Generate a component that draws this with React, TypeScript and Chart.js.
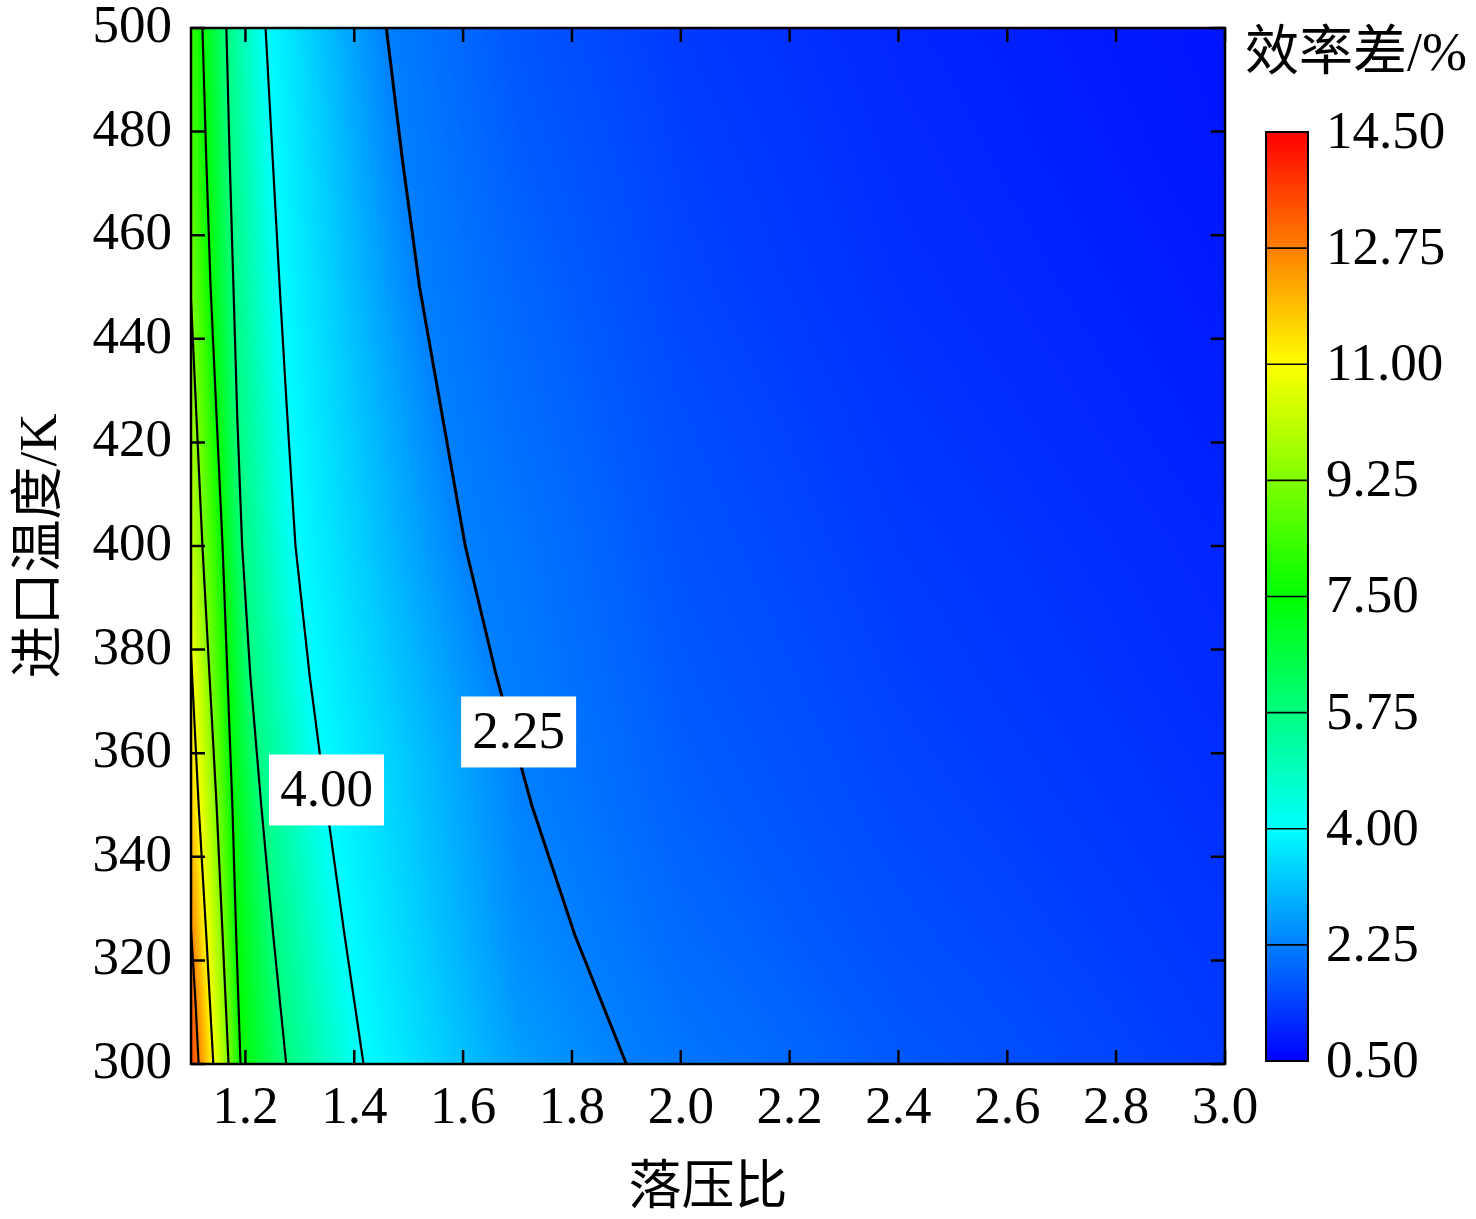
import React, { useEffect, useRef } from 'react';
import { Chart, registerables } from 'chart.js';

Chart.register(...registerables);

// ---- axis ticks ----
const xTickValues = [1.2, 1.4, 1.6, 1.8, 2.0, 2.2, 2.4, 2.6, 2.8, 3.0];
const yTickValues = [300, 320, 340, 360, 380, 400, 420, 440, 460, 480, 500];
const colorbarLevels = [0.5, 2.25, 4.0, 5.75, 7.5, 9.25, 11.0, 12.75, 14.5];
const colorbarLabels = ['0.50', '2.25', '4.00', '5.75', '7.50', '9.25', '11.00', '12.75', '14.50'];

// ---- contour lines (pressure ratio x at inlet temperature T) ----
const contourT = [300, 325, 350, 375, 400, 425, 450, 475, 500];
const line225 = [1.900, 1.805, 1.726, 1.661, 1.604, 1.562, 1.520, 1.488, 1.459];
const line400 = [1.417, 1.382, 1.349, 1.318, 1.292, 1.277, 1.263, 1.250, 1.237];
const line575 = [1.275, 1.251, 1.229, 1.209, 1.194, 1.185, 1.178, 1.171, 1.165];
const line750 = [1.191, 1.183, 1.176, 1.167, 1.158, 1.147, 1.136, 1.128, 1.121];
const line925T = [300, 325, 350, 375, 400, 425, 447.5];
const line925 = [1.169, 1.158, 1.147, 1.134, 1.121, 1.110, 1.100];
const line1100T = [300, 325, 350, 375, 379];
const line1100 = [1.141, 1.128, 1.114, 1.102, 1.100];
const line1275T = [300, 312.5, 326];
const line1275 = [1.114, 1.108, 1.100];

// ---- field values at the left edge (x = 1.1) and at sample columns, per contourT ----
const edgeLeftX = 1.1;
const edgeLeft = [13.7, 12.75, 11.75, 11.05, 10.2, 9.7, 9.15, 8.6, 8.2];
const columnX = [1.7, 2.0, 2.4, 3.0];
const col170 = [2.7, 2.45, 2.3, 2.2, 2.12, 2.0, 1.9, 1.78, 1.68];
const col200 = [2.12, 1.95, 1.82, 1.72, 1.63, 1.55, 1.45, 1.38, 1.3];
const col240 = [1.72, 1.58, 1.47, 1.38, 1.3, 1.22, 1.14, 1.08, 1.02];
const col300 = [1.3, 1.21, 1.13, 1.06, 1.0, 0.92, 0.86, 0.8, 0.76];

// ---- contour labels ----
const labelText = ['4.00', '2.25'];
const labelX = [1.349, 1.702];
const labelT = [352.9, 364.1];

const contours = [
  { level: 2.25, t: contourT, x: line225 },
  { level: 4.0, t: contourT, x: line400 },
  { level: 5.75, t: contourT, x: line575 },
  { level: 7.5, t: contourT, x: line750 },
  { level: 9.25, t: line925T, x: line925 },
  { level: 11.0, t: line1100T, x: line1100 },
  { level: 12.75, t: line1275T, x: line1275 },
];
const columns = [col170, col200, col240, col300];

const SERIF = "'Liberation Serif', 'Times New Roman', 'Noto Sans CJK SC', serif";
const FS = 53;

const colorStops: [number, number[]][] = [
  [0.5, [0, 0, 255]],
  [4.0, [0, 255, 255]],
  [7.5, [0, 255, 0]],
  [11.0, [255, 255, 0]],
  [14.5, [255, 0, 0]],
];

function colorFor(v: number): number[] {
  if (v <= colorStops[0][0]) return colorStops[0][1];
  for (let i = 1; i < colorStops.length; i++) {
    const [v1, c1] = colorStops[i];
    const [v0, c0] = colorStops[i - 1];
    if (v <= v1) {
      const f = (v - v0) / (v1 - v0);
      return [0, 1, 2].map((k) => Math.round(c0[k] + (c1[k] - c0[k]) * f));
    }
  }
  return colorStops[colorStops.length - 1][1];
}

function interpStrict(ts: number[], xs: number[], t: number): number | null {
  if (t < ts[0] || t > ts[ts.length - 1]) return null;
  for (let i = 1; i < ts.length; i++) {
    if (t <= ts[i]) {
      const f = (t - ts[i - 1]) / (ts[i] - ts[i - 1]);
      return xs[i - 1] + (xs[i] - xs[i - 1]) * f;
    }
  }
  return xs[xs.length - 1];
}

function interpClamp(ts: number[], xs: number[], t: number): number {
  const tc = Math.min(ts[ts.length - 1], Math.max(ts[0], t));
  return interpStrict(ts, xs, tc) as number;
}

const fieldPlugin = {
  id: 'field',
  beforeDatasetsDraw(chart: any) {
    const { ctx, chartArea, scales } = chart;
    const { left, top, right, bottom } = chartArea;
    const xs = scales.x;
    const ys = scales.y;
    const w = Math.round(right - left);
    const h = Math.round(bottom - top);
    const off = document.createElement('canvas');
    off.width = w;
    off.height = h;
    const octx = off.getContext('2d') as CanvasRenderingContext2D;
    const img = octx.createImageData(w, h);
    const xVals: number[] = [];
    for (let c = 0; c < w; c++) xVals.push(xs.getValueForPixel(left + c + 0.5));
    for (let r = 0; r < h; r++) {
      const T = ys.getValueForPixel(top + r + 0.5);
      const knots: [number, number][] = [];
      knots.push([edgeLeftX, interpClamp(contourT, edgeLeft, T)]);
      contours.forEach((cn) => {
        const xv = interpStrict(cn.t, cn.x, T);
        if (xv !== null) knots.push([xv, cn.level]);
      });
      columns.forEach((col, i) => knots.push([columnX[i], interpClamp(contourT, col, T)]));
      knots.sort((a, b) => a[0] - b[0]);
      let k = 0;
      for (let c = 0; c < w; c++) {
        const X = xVals[c];
        while (k < knots.length - 2 && X > knots[k + 1][0]) k++;
        const [x0, v0] = knots[k];
        const [x1, v1] = knots[k + 1];
        let v: number;
        if (X <= x0) v = v0;
        else if (X >= x1) v = v1;
        else v = v0 + ((v1 - v0) * (X - x0)) / (x1 - x0 || 1);
        const col = colorFor(v);
        const idx = (r * w + c) * 4;
        img.data[idx] = col[0];
        img.data[idx + 1] = col[1];
        img.data[idx + 2] = col[2];
        img.data[idx + 3] = 255;
      }
    }
    octx.putImageData(img, 0, 0);
    ctx.save();
    ctx.drawImage(off, left, top, right - left, bottom - top);
    ctx.restore();
  },
};

const labelPlugin = {
  id: 'contourLabels',
  afterDatasetsDraw(chart: any) {
    const { ctx, scales } = chart;
    ctx.save();
    labelText.forEach((txt, i) => {
      const px = scales.x.getPixelForValue(labelX[i]);
      const py = scales.y.getPixelForValue(labelT[i]);
      const bw = 115;
      const bh = 71;
      ctx.fillStyle = '#fff';
      ctx.fillRect(px - bw / 2, py - bh / 2, bw, bh);
      ctx.fillStyle = '#000';
      ctx.font = `${FS}px ${SERIF}`;
      ctx.textAlign = 'center';
      ctx.textBaseline = 'middle';
      ctx.fillText(txt, px, py + 2);
    });
    ctx.restore();
  },
};

const framePlugin = {
  id: 'frame',
  afterDraw(chart: any) {
    const { ctx, chartArea, scales } = chart;
    const { left, top, right, bottom } = chartArea;
    ctx.save();
    ctx.strokeStyle = '#000';
    ctx.lineWidth = 2.5;
    const tl = 14;
    ctx.beginPath();
    xTickValues.forEach((v) => {
      const px = scales.x.getPixelForValue(v);
      ctx.moveTo(px, bottom);
      ctx.lineTo(px, bottom - tl);
      ctx.moveTo(px, top);
      ctx.lineTo(px, top + tl);
    });
    yTickValues.forEach((v) => {
      const py = scales.y.getPixelForValue(v);
      ctx.moveTo(left, py);
      ctx.lineTo(left + tl, py);
      ctx.moveTo(right, py);
      ctx.lineTo(right - tl, py);
    });
    ctx.stroke();
    ctx.lineWidth = 2.5;
    ctx.strokeRect(left, top, right - left, bottom - top);

    // colour bar
    const cbL = 1266;
    const cbR = 1308;
    const cbTop = 132;
    const cbBot = 1061;
    const vmin = colorbarLevels[0];
    const vmax = colorbarLevels[colorbarLevels.length - 1];
    const toPx = (v: number) => cbBot - ((v - vmin) / (vmax - vmin)) * (cbBot - cbTop);
    for (let py = cbTop; py < cbBot; py++) {
      const v = vmin + ((cbBot - (py + 0.5)) / (cbBot - cbTop)) * (vmax - vmin);
      const c = colorFor(v);
      ctx.fillStyle = `rgb(${c[0]},${c[1]},${c[2]})`;
      ctx.fillRect(cbL, py, cbR - cbL, 1);
    }
    ctx.lineWidth = 1.6;
    ctx.beginPath();
    colorbarLevels.slice(1, -1).forEach((lv) => {
      const py = toPx(lv);
      ctx.moveTo(cbL, py);
      ctx.lineTo(cbR, py);
    });
    ctx.stroke();
    ctx.lineWidth = 2;
    ctx.strokeRect(cbL, cbTop, cbR - cbL, cbBot - cbTop);
    ctx.fillStyle = '#000';
    ctx.font = `${FS}px ${SERIF}`;
    ctx.textAlign = 'left';
    ctx.textBaseline = 'middle';
    colorbarLevels.forEach((lv, i) => {
      ctx.fillText(colorbarLabels[i], 1326, toPx(lv) + 2);
    });
    ctx.font = `54px ${SERIF}`;
    ctx.fillText('效率差/%', 1245, 56);
    ctx.restore();
  },
};

export default function App() {
  const ref = useRef<HTMLCanvasElement | null>(null);
  useEffect(() => {
    document.body.style.margin = '0';
    if (!ref.current) return;
    const datasets = contours.map((cn) => ({
      label: String(cn.level),
      data: cn.t.map((t, i) => ({ x: cn.x[i], y: t })),
      showLine: true,
      borderColor: '#000',
      borderWidth: cn.level === 2.25 ? 3 : 2.2,
      pointRadius: 0,
      pointHoverRadius: 0,
      fill: false,
      tension: 0,
    }));
    const chart = new Chart(ref.current, {
      type: 'scatter',
      data: { datasets },
      options: {
        animation: false,
        responsive: false,
        maintainAspectRatio: false,
        layout: { padding: { top: 28, right: 251, bottom: 0, left: 0 } },
        plugins: { legend: { display: false }, tooltip: { enabled: false } },
        scales: {
          x: {
            type: 'linear',
            min: 1.1,
            max: 3.0,
            grid: { display: false, drawTicks: false },
            border: { display: false },
            afterBuildTicks: (s: any) => {
              s.ticks = xTickValues.map((v) => ({ value: v }));
            },
            afterFit: (s: any) => {
              s.height = 155;
              s.paddingLeft = 0;
              s.paddingRight = 0;
            },
            ticks: {
              color: '#000',
              padding: 13,
              maxRotation: 0,
              autoSkip: false,
              font: { family: SERIF, size: FS },
              callback: (v: any) => Number(v).toFixed(1),
            },
            title: {
              display: true,
              text: '落压比',
              color: '#000',
              font: { family: SERIF, size: FS },
              padding: { top: 0, bottom: -3 },
            },
          },
          y: {
            type: 'linear',
            min: 300,
            max: 500,
            grid: { display: false, drawTicks: false },
            border: { display: false },
            afterBuildTicks: (s: any) => {
              s.ticks = yTickValues.map((v) => ({ value: v }));
            },
            afterFit: (s: any) => {
              s.width = 191;
              s.paddingTop = 0;
              s.paddingBottom = 0;
            },
            ticks: {
              color: '#000',
              padding: 19,
              autoSkip: false,
              font: { family: SERIF, size: FS },
              callback: (v: any) => Number(v).toFixed(0),
            },
            title: {
              display: true,
              text: '进口温度/K',
              color: '#000',
              font: { family: SERIF, size: FS },
              padding: { top: 10, bottom: 0 },
            },
          },
        },
      },
      plugins: [fieldPlugin, labelPlugin, framePlugin],
    });
    return () => chart.destroy();
  }, []);
  return (
    <div style={{ width: 1476, height: 1219, background: '#fff' }}>
      <canvas ref={ref} width={1476} height={1219} style={{ display: 'block' }} />
    </div>
  );
}
